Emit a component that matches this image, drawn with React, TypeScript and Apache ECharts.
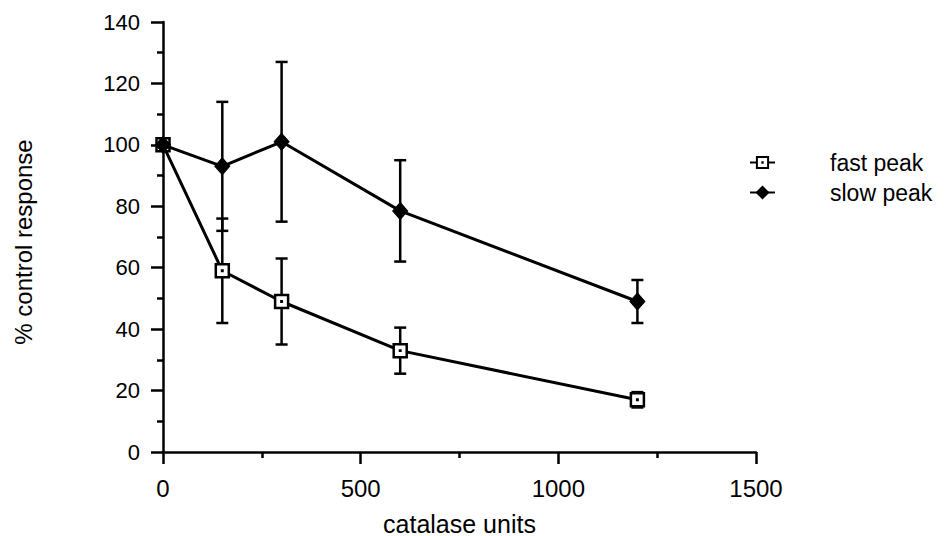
import React, { useEffect, useRef } from "react";
import * as echarts from "echarts";

const catalaseUnits = [0, 150, 300, 600, 1200];
const fastPeak = [100, 59, 49, 33, 17];
const fastPeakErr = [0, 17, 14, 7.5, 2.5];
const slowPeak = [100, 93, 101, 78.5, 49];
const slowPeakErr = [0, 21, 26, 16.5, 7];
const xTicks = [0, 500, 1000, 1500];
const yTicks = [0, 20, 40, 60, 80, 100, 120, 140];

const FONT = "'Liberation Sans', Arial, Helvetica, sans-serif";

function errorSeries(name: string, values: number[], errs: number[]) {
  const data = catalaseUnits.map((x, i) => [x, values[i] - errs[i], values[i] + errs[i]]);
  return {
    type: "custom",
    name,
    z: 1,
    silent: true,
    data,
    renderItem: (_params: any, api: any) => {
      const x = api.value(0);
      const lo = api.coord([x, api.value(1)]);
      const hi = api.coord([x, api.value(2)]);
      const hw = 6;
      const style = { stroke: "#000", lineWidth: 2.5 };
      if (Math.abs(hi[1] - lo[1]) < 0.5) return { type: "group", children: [] };
      return {
        type: "group",
        children: [
          { type: "line", shape: { x1: lo[0], y1: lo[1], x2: hi[0], y2: hi[1] }, style },
          { type: "line", shape: { x1: lo[0] - hw, y1: lo[1], x2: lo[0] + hw, y2: lo[1] }, style },
          { type: "line", shape: { x1: hi[0] - hw, y1: hi[1], x2: hi[0] + hw, y2: hi[1] }, style },
        ],
      };
    },
  };
}

export default function App() {
  const ref = useRef<HTMLDivElement>(null);
  useEffect(() => {
    if (!ref.current) return;
    const chart = echarts.init(ref.current, undefined, { renderer: "svg" });
    chart.setOption({
      animation: false,
      backgroundColor: "#fff",
      textStyle: { fontFamily: FONT, color: "#000" },
      grid: {
        left: 163,
        top: 22,
        width: 593,
        height: 430,
        containLabel: false,
        outerBoundsMode: "none",
      },
      legend: {
        orient: "vertical",
        left: 749,
        top: 151,
        padding: 0,
        itemWidth: 25,
        itemHeight: 14,
        itemGap: 7,
        data: ["fast peak", "slow peak"],
        textStyle: { fontFamily: FONT, fontSize: 23, color: "#000", padding: [0, 0, 0, 50] },
      },
      xAxis: {
        type: "value",
        min: 0,
        max: 1500,
        interval: 500,
        name: "catalase units",
        nameLocation: "middle",
        nameGap: 59,
        nameTextStyle: { fontFamily: FONT, fontSize: 25, color: "#000" },
        axisLine: { show: true, onZero: false, lineStyle: { color: "#000", width: 2.5 } },
        axisTick: { show: true, inside: false, length: 12, lineStyle: { color: "#000", width: 2.5 } },
        minorTick: { show: true, splitNumber: 2, length: 6, lineStyle: { color: "#000", width: 2.5 } },
        splitLine: { show: false },
        axisLabel: {
          margin: 24,
          fontFamily: FONT,
          fontSize: 24,
          color: "#000",
          customValues: xTicks,
          formatter: (v: number) => String(v),
        },
      },
      yAxis: {
        type: "value",
        min: 0,
        max: 140,
        interval: 20,
        name: "% control response",
        nameLocation: "middle",
        nameGap: 128,
        nameRotate: 90,
        nameTextStyle: { fontFamily: FONT, fontSize: 24, color: "#000", padding: [0, 10, 0, 0] },
        axisLine: { show: true, onZero: false, lineStyle: { color: "#000", width: 2.5 } },
        axisTick: { show: true, inside: false, length: 12, lineStyle: { color: "#000", width: 2.5 } },
        minorTick: { show: true, splitNumber: 2, length: 6, lineStyle: { color: "#000", width: 2.5 } },
        splitLine: { show: false },
        axisLabel: {
          margin: 23,
          fontFamily: FONT,
          fontSize: 22,
          color: "#000",
          customValues: yTicks,
          formatter: (v: number) => String(v),
        },
      },
      series: [
        errorSeries("fast err", fastPeak, fastPeakErr),
        errorSeries("slow err", slowPeak, slowPeakErr),
        {
          type: "line",
          name: "fast peak",
          z: 3,
          data: catalaseUnits.map((x, i) => [x, fastPeak[i]]),
          symbol: "path://M0,0H12V12H0Z M5.8,5.8H6.2V6.2H5.8Z",
          symbolSize: 13,
          showAllSymbol: true,
          lineStyle: { color: "#000", width: 3 },
          itemStyle: { color: "#fff", borderColor: "#000", borderWidth: 2.5 },
        },
        {
          type: "line",
          name: "slow peak",
          z: 4,
          data: catalaseUnits.map((x, i) => [x, slowPeak[i]]),
          symbol: "diamond",
          symbolSize: [15, 17],
          showAllSymbol: true,
          lineStyle: { color: "#000", width: 3 },
          itemStyle: { color: "#000", borderColor: "#000", borderWidth: 1 },
        },
      ],
    });
    return () => chart.dispose();
  }, []);
  return (
    <div
      ref={ref}
      style={{ position: "absolute", left: 0, top: 0, width: 947, height: 536, background: "#fff" }}
    />
  );
}
